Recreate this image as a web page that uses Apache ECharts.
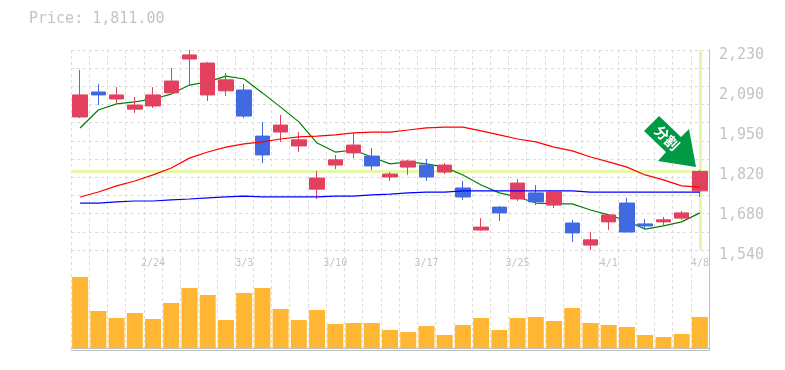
<!DOCTYPE html>
<html><head><meta charset="utf-8">
<script src="https://cdn.jsdelivr.net/npm/echarts@6/dist/echarts.min.js"></script>
<style>html,body{margin:0;padding:0;background:#fff}#c{width:785px;height:370px}</style>
</head><body><div id="c"></div>
<script>
const categories=['2/18','2/19','2/20','2/21','2/24','2/25','2/26','2/27','2/28','3/3','3/4','3/5','3/6','3/7','3/10','3/11','3/12','3/13','3/14','3/17','3/18','3/19','3/21','3/24','3/25','3/26','3/27','3/28','3/31','4/1','4/2','4/3','4/4','4/7','4/8'];
const dateLabels=['2/24','3/3','3/10','3/17','3/25','4/1','4/8'];
const priceLabels=['1,540','1,680','1,820','1,950','2,090','2,230'];
const opens=[1999,2085,2061,2026,2037,2082,2199,2075,2089,2092,1933,1947,1899,1750,1833,1875,1864,1792,1826,1833,1809,1754,1609,1688,1716,1737,1695,1633,1557,1637,1702,1630,1637,1650,1744];
const closes=[2075,2075,2075,2040,2075,2123,2213,2185,2127,2002,1868,1971,1920,1788,1851,1902,1830,1802,1847,1792,1833,1723,1619,1668,1771,1706,1740,1599,1575,1661,1602,1623,1644,1668,1811];
const lows=[1995,2040,2047,2013,2030,2082,2109,2054,2071,1995,1840,1913,1878,1716,1819,1857,1816,1778,1799,1778,1802,1713,1606,1640,1709,1695,1685,1568,1540,1609,1602,1612,1623,1644,1723];
const highs=[2161,2113,2102,2068,2102,2168,2230,2189,2151,2113,1982,2006,1947,1813,1868,1944,1892,1809,1851,1854,1840,1778,1650,1692,1785,1764,1740,1644,1602,1661,1720,1647,1654,1675,1816];
const maShort=[1961,2023,2044,2051,2061,2078,2109,2120,2140,2130,2082,2033,1982,1909,1878,1885,1861,1837,1844,1837,1826,1799,1764,1737,1723,1702,1699,1699,1678,1661,1640,1612,1623,1637,1668];
const maMid=[1723,1740,1761,1778,1799,1823,1857,1878,1895,1906,1913,1923,1930,1933,1937,1944,1947,1947,1954,1961,1964,1964,1951,1937,1923,1913,1895,1882,1861,1844,1826,1799,1782,1761,1757];
const maLong=[1702,1702,1706,1709,1709,1713,1716,1720,1723,1726,1723,1723,1723,1723,1726,1726,1730,1733,1737,1740,1740,1744,1744,1744,1744,1744,1744,1744,1740,1740,1740,1740,1740,1740,1740];
const volumes=[71,37,30,35,29,45,60,53,28,55,60,39,28,38,24,25,25,18,16,22,13,23,30,18,30,31,27,40,25,23,21,13,11,14,31];
const lastPrice=1811;
const UP='#E2405F',DOWN='#4169E1',HILITE='#E6F7AA',GRID='#dcdcdc',AXIS='#bfbfbf',TEXT='#c4c4c4',FONT='"DejaVu Sans Mono","Liberation Mono",monospace';
const dash={color:GRID,width:1,type:[3,3]};
const hidden={type:'category',data:categories,show:false};
const chart=echarts.init(document.getElementById('c'),null,{renderer:'canvas'});
chart.setOption({
 animation:false,
 title:{text:'Price: '+lastPrice.toLocaleString('en-US',{minimumFractionDigits:2}),left:29,top:12,padding:0,textStyle:{fontFamily:FONT,fontSize:15,fontWeight:'normal',color:TEXT}},
 grid:[{left:71,width:638,top:50,height:200},{left:71,width:638,top:250,height:100},{left:71,width:638,top:55,height:200}],
 xAxis:[
  {type:'category',gridIndex:0,data:categories,boundaryGap:true,axisLine:{show:false},axisTick:{show:false},axisLabel:{show:false},splitLine:{show:true,interval:0,lineStyle:dash}},
  {type:'category',gridIndex:1,data:categories,position:'top',boundaryGap:true,axisLine:{show:true,lineStyle:{color:AXIS,width:1}},axisTick:{show:false},splitLine:{show:true,interval:0,lineStyle:dash},
   axisLabel:{inside:true,margin:8,interval:(i,v)=>dateLabels.includes(v),fontFamily:FONT,fontSize:10,color:TEXT}},
  {type:'category',gridIndex:1,data:categories,position:'bottom',axisLine:{show:true,onZero:false,lineStyle:{color:AXIS,width:1}},axisTick:{show:false},axisLabel:{show:false},splitLine:{show:false}},
  Object.assign({gridIndex:2},hidden)
 ],
 yAxis:[
  {type:'value',gridIndex:0,min:1540,max:2230,show:false},
  {type:'value',gridIndex:0,min:0,max:11,interval:1,position:'right',axisLine:{show:true,onZero:false,lineStyle:{color:AXIS,width:1}},axisTick:{show:false},axisLabel:{show:false},splitLine:{show:true,lineStyle:dash}},
  {type:'value',gridIndex:2,min:0,max:5,interval:1,position:'right',axisLine:{show:false},axisTick:{show:false},splitLine:{show:false},
   axisLabel:{margin:10,formatter:v=>priceLabels[v],fontFamily:FONT,fontSize:15,color:TEXT,showMinLabel:true,showMaxLabel:true}},
  {type:'value',gridIndex:1,min:-2,max:98,position:'right',axisLine:{show:true,onZero:false,lineStyle:{color:AXIS,width:1}},axisTick:{show:false},axisLabel:{show:false},splitLine:{show:false}}
 ],
 series:[
  {type:'line',xAxisIndex:0,yAxisIndex:0,data:[],z:1,silent:true,
   markLine:{z:1,silent:true,symbol:'none',label:{show:false},lineStyle:{color:HILITE,width:3,type:'solid'},data:[{yAxis:lastPrice},{xAxis:categories[34]}]}},
  {type:'candlestick',name:'price',xAxisIndex:0,yAxisIndex:0,z:3,barWidth:15,
   data:categories.map((_,i)=>[opens[i],closes[i],lows[i],highs[i]]),
   itemStyle:{color:UP,color0:DOWN,borderColor:UP,borderColor0:DOWN,borderWidth:1}},
  {type:'line',name:'ma1',xAxisIndex:0,yAxisIndex:0,data:maShort,showSymbol:false,z:2,lineStyle:{color:'#008000',width:1.2}},
  {type:'line',name:'ma2',xAxisIndex:0,yAxisIndex:0,data:maMid,showSymbol:false,z:4,lineStyle:{color:'#ff0000',width:1.2}},
  {type:'line',name:'ma3',xAxisIndex:0,yAxisIndex:0,data:maLong,showSymbol:false,z:4,lineStyle:{color:'#0000ff',width:1.2}},
  {type:'bar',name:'volume',xAxisIndex:1,yAxisIndex:3,data:volumes,barWidth:16,itemStyle:{color:'#FFB733'}}
 ],
 graphic:[
  {type:'polygon',z:100,shape:{points:[[659,116],[644,131],[666,152],[658,161],[696,167],[689,129],[681,137]]},style:{fill:'#009944'}},
  {type:'text',z:101,x:667,y:138,rotation:-Math.PI/4,style:{text:'分割',font:'bold 14px "Noto Sans CJK JP"',fill:'#fff',align:'center',verticalAlign:'middle'}}
 ]
});
</script></body></html>
